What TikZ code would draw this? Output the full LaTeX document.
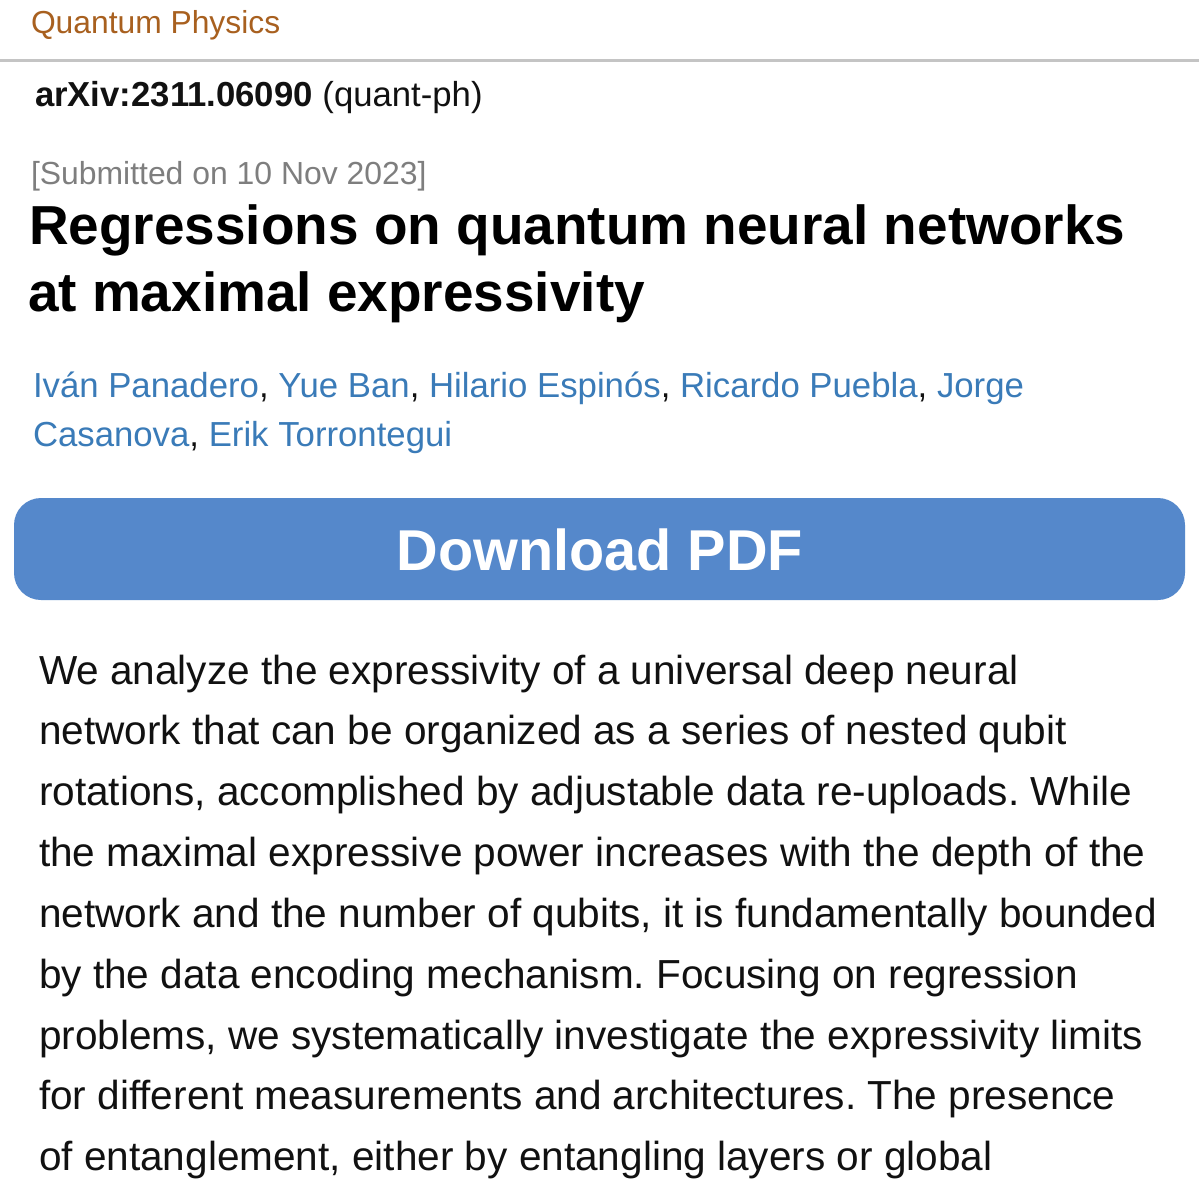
\documentclass[tikz,border=0pt]{standalone}
\usepackage{fontspec}
\setmainfont{Liberation Sans}
\definecolor{catbrown}{HTML}{A8601F}
\definecolor{linkblue}{HTML}{3A7BB8}
\definecolor{btnblue}{HTML}{5588CB}
\definecolor{rulegray}{HTML}{C4C4C4}
\definecolor{subgray}{HTML}{7E7E7E}
\definecolor{bodyblack}{HTML}{111111}
\tikzset{
  x=1pt,y=-1pt,
  txt/.style={anchor=base west,inner sep=0pt,outer sep=0pt},
  cat/.style={txt,text=catbrown,font=\fontsize{31.8}{32}\selectfont},
  idline/.style={txt,text=bodyblack,font=\fontsize{34.7}{35}\selectfont},
  sub/.style={txt,text=subgray,font=\fontsize{31.9}{32}\selectfont},
  ttl/.style={txt,text=black,font=\fontsize{54.95}{55}\selectfont\bfseries},
  auth/.style={txt,text=linkblue,font=\fontsize{34.75}{35}\selectfont},
  body/.style={txt,text=bodyblack,font=\fontsize{40.55}{41}\selectfont},
}
\frenchspacing
\begin{document}
\begin{tikzpicture}
\useasboundingbox[fill=white] (0,0) rectangle (1199,1200);
\node[cat] (cat) at (31,33) {Quantum Physics};
\draw[rulegray,line width=3pt] (0,60) -- (1199,60);
\node[idline] (id) at (35,106) {\textbf{arXiv:2311.06090} (quant-ph)};
\node[sub] (sub) at (31,184) {[Submitted on 10 Nov 2023]};
\node[ttl] (t1) at (29,244) {Regressions on quantum neural networks};
\node[ttl] (t2) at (28,311) {at maximal expressivity};
\node[auth] (a1) at (33,397) {Iván Panadero\textcolor{bodyblack}{,} Yue Ban\textcolor{bodyblack}{,} Hilario Espinós\textcolor{bodyblack}{,} Ricardo Puebla\textcolor{bodyblack}{,} Jorge};
\node[auth] (a2) at (33,446) {Casanova\textcolor{bodyblack}{,} Erik Torrontegui};
\fill[btnblue,rounded corners=27pt] (14,498) rectangle (1185,600);
\node[anchor=base,inner sep=0pt,text=white,font=\fontsize{57.6}{58}\selectfont\bfseries] (pdf) at (600,570) {Download PDF};
\node[body] (b1) at (39,684) {We analyze the expressivity of a universal deep neural};
\node[body] (b2) at (39,744) {network that can be organized as a series of nested qubit};
\node[body] (b3) at (39,805) {rotations, accomplished by adjustable data re-uploads. While};
\node[body] (b4) at (39,866) {the maximal expressive power increases with the depth of the};
\node[body] (b5) at (39,927) {network and the number of qubits, it is fundamentally bounded};
\node[body] (b6) at (39,988) {by the data encoding mechanism. Focusing on regression};
\node[body] (b7) at (39,1049) {problems, we systematically investigate the expressivity limits};
\node[body] (b8) at (39,1109) {for different measurements and architectures. The presence};
\node[body] (b9) at (39,1170) {of entanglement, either by entangling layers or global};
\end{tikzpicture}
\end{document}
